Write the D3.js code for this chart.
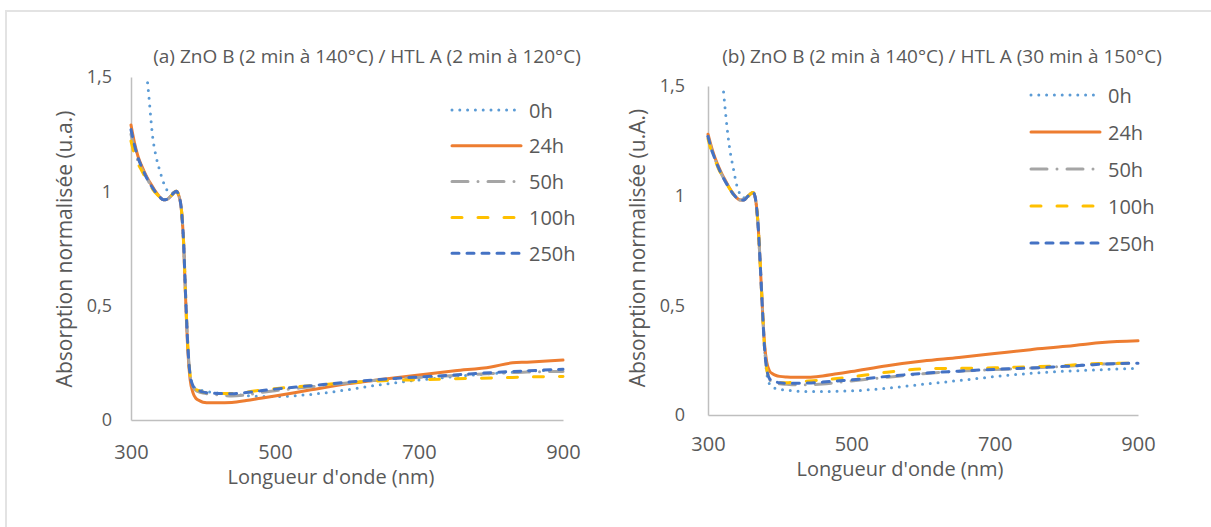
<!DOCTYPE html>
<html>
<head>
<meta charset="utf-8">
<script src="https://cdn.jsdelivr.net/npm/d3@7"></script>
<style>
  html, body { margin: 0; padding: 0; background: #fff; }
  svg { display: block; }
  text { font-family: "Open Sans", "Noto Sans", sans-serif; fill: #595959; }
</style>
</head>
<body>
<svg id="chart" width="1211" height="527"></svg>
<script>
// ---------------- DATA ----------------
const wavelengths = [300,305,310,315,320,325,330,335,340,345,350,355,360,363,366,370,373,376,379,382,386,390,395,400,410,420,440,460,480,500,550,600,650,700,750,800,830,850,900];

const seriesNames = ["0h", "24h", "50h", "100h", "250h"];

// Panel (a)
const a_0h   = [2.7,2.35,2.05,1.8,1.58,1.41,1.24,1.15,1.09,1.04,1.005,0.99,0.995,1.0,0.985,0.92,0.78,0.53,0.32,0.2,0.15,0.138,0.132,0.128,0.122,0.118,0.112,0.107,0.103,0.103,0.112,0.132,0.156,0.175,0.19,0.203,0.209,0.213,0.22];
const a_24h  = [1.29,1.21,1.15,1.11,1.075,1.045,1.02,0.995,0.975,0.963,0.965,0.978,0.995,1.0,0.985,0.92,0.78,0.52,0.3,0.18,0.12,0.095,0.085,0.078,0.075,0.075,0.077,0.085,0.095,0.105,0.132,0.158,0.178,0.197,0.215,0.232,0.25,0.253,0.262];
const a_50h  = [1.25,1.18,1.13,1.1,1.07,1.04,1.015,0.993,0.975,0.963,0.965,0.978,0.995,1.0,0.985,0.92,0.78,0.53,0.32,0.2,0.145,0.13,0.122,0.118,0.113,0.11,0.105,0.11,0.12,0.128,0.145,0.162,0.176,0.186,0.195,0.203,0.207,0.21,0.212];
const a_100h = [1.22,1.16,1.12,1.09,1.06,1.035,1.01,0.99,0.975,0.963,0.965,0.978,0.995,1.0,0.985,0.92,0.78,0.53,0.32,0.2,0.15,0.135,0.128,0.122,0.118,0.116,0.116,0.122,0.13,0.137,0.15,0.163,0.172,0.176,0.18,0.184,0.186,0.188,0.19];
const a_250h = [1.27,1.2,1.145,1.105,1.07,1.04,1.015,0.993,0.975,0.963,0.965,0.978,0.995,1.0,0.985,0.92,0.78,0.53,0.32,0.2,0.15,0.135,0.128,0.122,0.118,0.116,0.115,0.12,0.128,0.135,0.15,0.165,0.178,0.188,0.197,0.207,0.212,0.215,0.222];

// Panel (b)
const b_0h   = [2.5,2.15,1.88,1.68,1.53,1.36,1.22,1.13,1.05,1.005,0.99,1.0,1.01,1.015,0.99,0.86,0.68,0.48,0.3,0.19,0.14,0.127,0.12,0.117,0.113,0.11,0.107,0.107,0.108,0.11,0.122,0.14,0.157,0.175,0.19,0.2,0.204,0.207,0.213];
const b_24h  = [1.28,1.22,1.17,1.13,1.095,1.065,1.035,1.01,0.99,0.98,0.98,0.995,1.01,1.015,0.99,0.86,0.68,0.48,0.32,0.24,0.2,0.188,0.18,0.176,0.173,0.172,0.172,0.178,0.188,0.198,0.225,0.246,0.262,0.28,0.298,0.313,0.324,0.33,0.338];
const b_50h  = [1.27,1.21,1.165,1.125,1.09,1.06,1.033,1.008,0.99,0.98,0.98,0.995,1.01,1.015,0.99,0.86,0.68,0.48,0.3,0.21,0.16,0.15,0.145,0.142,0.14,0.138,0.138,0.141,0.148,0.155,0.172,0.188,0.2,0.207,0.214,0.222,0.228,0.232,0.236];
const b_100h = [1.26,1.2,1.16,1.12,1.09,1.06,1.033,1.008,0.99,0.98,0.98,0.995,1.01,1.015,0.99,0.86,0.68,0.48,0.3,0.21,0.165,0.155,0.15,0.147,0.147,0.15,0.155,0.16,0.166,0.174,0.195,0.21,0.213,0.215,0.22,0.226,0.233,0.235,0.236];
const b_250h = [1.27,1.21,1.165,1.125,1.09,1.06,1.033,1.008,0.99,0.98,0.98,0.995,1.01,1.015,0.99,0.86,0.68,0.48,0.3,0.21,0.165,0.155,0.15,0.147,0.145,0.145,0.146,0.15,0.155,0.16,0.176,0.19,0.2,0.208,0.214,0.222,0.228,0.232,0.236];

const xTicks = [300, 500, 700, 900];
const yTicks = [0, 0.5, 1, 1.5];

const titleA = "(a) ZnO B (2 min à 140°C) / HTL A (2 min à 120°C)";
const titleB = "(b) ZnO B (2 min à 140°C) / HTL A (30 min à 150°C)";
const xLabel = "Longueur d'onde (nm)";
const yLabelA = "Absorption normalisée (u.a.)";
const yLabelB = "Absorption normalisée (u.A.)";

// ---------------- STYLES ----------------
const styles = {
  "0h":   { color: "#5B9BD5", dash: "0 7.8", width: 3, cap: "round" },
  "24h":  { color: "#ED7D31", dash: null,     width: 3, cap: "round" },
  "50h":  { color: "#A5A5A5", dash: "16 10 0 10", width: 3, cap: "round" },
  "100h": { color: "#FFC000", dash: "10 16",  width: 3, cap: "round" },
  "250h": { color: "#4472C4", dash: "7 8",    width: 3, cap: "round" }
};

const svg = d3.select("#chart");

// outer frame
svg.append("rect").attr("x", 6).attr("y", 11).attr("width", 1260).attr("height", 600)
  .attr("fill", "none").attr("stroke", "#e3e3e3").attr("stroke-width", 2);

const fmt = v => String(v).replace(".", ",");

function drawPanel(cfg, seriesData) {
  const x = d3.scaleLinear().domain([300, 900]).range([cfg.x0, cfg.x1]);
  const y = d3.scaleLinear().domain([0, 1.5]).range([cfg.y0, cfg.y1]);
  const g = svg.append("g");

  const clipId = "clip" + cfg.id;
  svg.append("clipPath").attr("id", clipId).append("rect")
    .attr("x", cfg.x0 - 10).attr("y", cfg.y1).attr("width", cfg.x1 - cfg.x0 + 20).attr("height", cfg.y0 - cfg.y1 + 10);

  // axes
  const xAxis = d3.axisBottom(x).tickValues(xTicks).tickSize(0).tickPadding(cfg.xTickPad).tickFormat(d => d);
  const gx = g.append("g").attr("transform", `translate(0,${cfg.y0})`).call(xAxis);
  gx.select(".domain").attr("stroke", "#bfbfbf").attr("stroke-width", 1.5);
  gx.selectAll("text").attr("font-size", 20).attr("fill", "#595959").attr("font-family", "Open Sans");

  const yAxis = d3.axisLeft(y).tickValues(yTicks).tickSize(0).tickPadding(cfg.yTickPad).tickFormat(fmt);
  const gy = g.append("g").attr("transform", `translate(${cfg.x0},0)`).call(yAxis);
  gy.select(".domain").attr("stroke", "#bfbfbf").attr("stroke-width", 1.5);
  gy.selectAll("text").attr("font-size", 18).attr("fill", "#595959").attr("font-family", "Open Sans");

  // lines
  const line = d3.line().x((d, i) => x(wavelengths[i])).y(d => y(d)).curve(d3.curveMonotoneX);
  const lg = g.append("g").attr("clip-path", `url(#${clipId})`);
  seriesNames.forEach(name => {
    const st = styles[name];
    lg.append("path").datum(seriesData[name])
      .attr("d", line).attr("fill", "none")
      .attr("stroke", st.color).attr("stroke-width", st.width)
      .attr("stroke-linecap", st.cap).attr("stroke-linejoin", "round")
      .attr("stroke-dasharray", st.dash);
  });

  // title
  g.append("text").attr("x", cfg.titleX).attr("y", cfg.titleY)
    .attr("text-anchor", "middle").attr("dominant-baseline", "central")
    .attr("font-size", 19).text(cfg.title);

  // axis titles
  g.append("text").attr("x", cfg.xLabelX).attr("y", cfg.xLabelY)
    .attr("text-anchor", "middle").attr("dominant-baseline", "central")
    .attr("font-size", 20).text(xLabel);
  g.append("text").attr("transform", `translate(${cfg.yLabelX},${cfg.yLabelY}) rotate(-90)`)
    .attr("text-anchor", "middle").attr("dominant-baseline", "central")
    .attr("font-size", 21).text(cfg.yLabel);

  // legend
  const leg = g.append("g");
  seriesNames.forEach((name, i) => {
    const st = styles[name];
    const yy = cfg.legY + i * cfg.legStep;
    leg.append("line").attr("x1", cfg.legX).attr("x2", cfg.legX + 69).attr("y1", yy).attr("y2", yy)
      .attr("stroke", st.color).attr("stroke-width", st.width)
      .attr("stroke-linecap", st.cap).attr("stroke-dasharray", st.dash);
    leg.append("text").attr("x", cfg.legX + 77).attr("y", yy)
      .attr("dominant-baseline", "central").attr("font-size", 20).text(name);
  });
}

drawPanel({
  id: "a", x0: 131, x1: 563, y0: 420, y1: 77,
  xTickPad: 25, yTickPad: 19,
  title: titleA, titleX: 367, titleY: 56,
  xLabelX: 331, xLabelY: 476, yLabel: yLabelA, yLabelX: 64, yLabelY: 249,
  legX: 452, legY: 110, legStep: 35.8
}, { "0h": a_0h, "24h": a_24h, "50h": a_50h, "100h": a_100h, "250h": a_250h });

drawPanel({
  id: "b", x0: 708, x1: 1138, y0: 415, y1: 86,
  xTickPad: 22, yTickPad: 23,
  title: titleB, titleX: 942, titleY: 56,
  xLabelX: 900, xLabelY: 468, yLabel: yLabelB, yLabelX: 637, yLabelY: 248,
  legX: 1031, legY: 95, legStep: 37
}, { "0h": b_0h, "24h": b_24h, "50h": b_50h, "100h": b_100h, "250h": b_250h });
</script>
</body>
</html>
